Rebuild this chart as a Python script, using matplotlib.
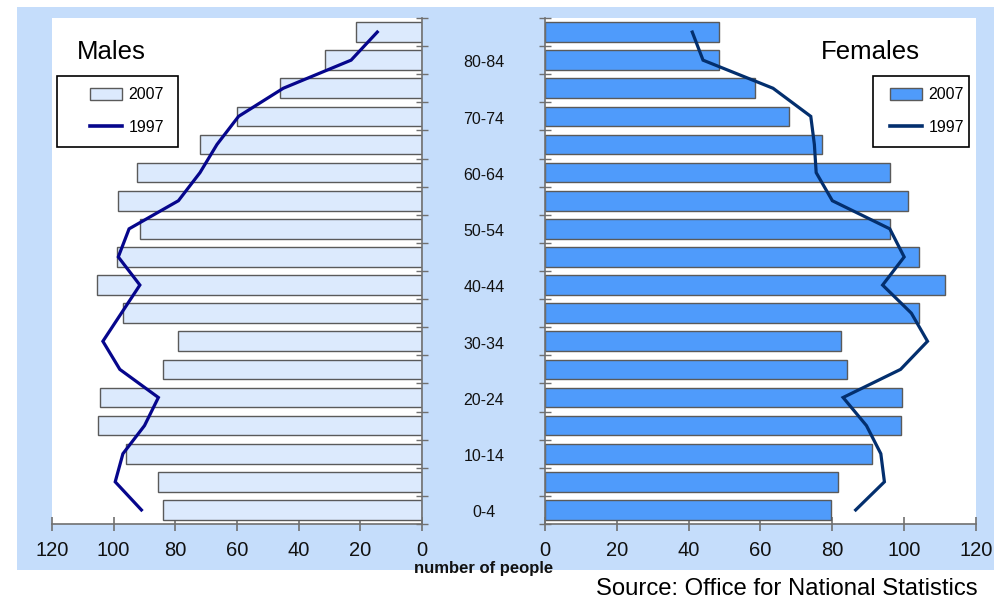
import matplotlib
matplotlib.use("Agg")
import matplotlib.pyplot as plt
from matplotlib.patches import Rectangle, Patch
from matplotlib.lines import Line2D
import matplotlib.transforms as mtransforms

plt.rcParams['font.family'] = ['Liberation Sans', 'DejaVu Sans']

# Age groups, youngest first
ages = ['0-4', '5-9', '10-14', '15-19', '20-24', '25-29', '30-34', '35-39',
        '40-44', '45-49', '50-54', '55-59', '60-64', '65-69', '70-74',
        '75-79', '80-84', '85-89']

male_2007 = [84, 85.5, 96, 105, 104.5, 84, 79, 97, 105.5, 99, 91.5, 98.5,
             92.5, 72, 60, 46, 31.5, 21.5]
male_1997 = [91, 99.5, 97, 90, 85.5, 98, 103.5, 97.5, 91.5, 98.5, 95, 79,
             72, 66.5, 59.5, 45, 23, 14.5]
female_2007 = [79.5, 81.5, 91, 99, 99.5, 84, 82.5, 104, 111.5, 104, 96, 101,
               96, 77, 68, 58.5, 48.5, 48.5]
female_1997 = [86.5, 94.5, 93.5, 89.5, 83, 99, 106.5, 102, 94, 100, 96, 80,
               75.5, 75, 74, 63.5, 44, 41]

x_ticks = [0, 20, 40, 60, 80, 100, 120]

W, H = 995, 597
BG = '#C5DDFB'
MALE_FACE = '#DCEAFD'
FEMALE_FACE = '#4F9BFB'
MALE_LINE = '#06068C'
FEMALE_LINE = '#032F6E'
EDGE = '#5A5A5A'
AXIS = '#707070'

fig = plt.figure(figsize=(W / 100, H / 100), dpi=100)


def fx(px):
    return px / W


def fy(py):
    return 1 - py / H


# panel background
fig.patches.append(Rectangle((fx(17), fy(570)), fx(W - 17), (570 - 7) / H,
                             transform=fig.transFigure, facecolor=BG,
                             edgecolor='none', zorder=-5))

top, bottom = 18, 524
axL = fig.add_axes([fx(52), fy(bottom), fx(422 - 52), (bottom - top) / H])
axR = fig.add_axes([fx(545), fy(bottom), fx(976 - 545), (bottom - top) / H])

y = list(range(len(ages)))

axL.barh(y, male_2007, height=0.7, color=MALE_FACE, edgecolor=EDGE,
         linewidth=1.0, zorder=2)
axL.plot(male_1997, y, color=MALE_LINE, lw=2.3, zorder=3,
         solid_joinstyle='miter')
axL.set_xlim(120, 0)

axR.barh(y, female_2007, height=0.7, color=FEMALE_FACE, edgecolor=EDGE,
         linewidth=1.0, zorder=2)
axR.plot(female_1997, y, color=FEMALE_LINE, lw=2.3, zorder=3,
         solid_joinstyle='miter')
axR.set_xlim(0, 120)

bounds = [i - 0.5 for i in range(len(ages) + 1)]
for ax, side in ((axL, 'right'), (axR, 'left')):
    ax.set_ylim(-0.5, len(ages) - 0.5)
    ax.set_facecolor('white')
    for s in ax.spines.values():
        s.set_visible(False)
    ax.spines[side].set_visible(True)
    ax.spines['bottom'].set_visible(True)
    ax.spines[side].set_color(AXIS)
    ax.spines['bottom'].set_color(AXIS)
    ax.spines[side].set_linewidth(1.2)
    ax.spines['bottom'].set_linewidth(1.2)
    ax.set_yticks(bounds)
    ax.set_yticklabels([])
    ax.yaxis.set_ticks_position(side)
    ax.tick_params(axis='y', direction='inout', length=9, color=AXIS, width=1)
    ax.set_xticks(x_ticks)
    ax.tick_params(axis='x', direction='inout', length=10, color=AXIS,
                   width=1.2, labelsize=14.5, pad=7, labelcolor='#111111')

# age-group labels in the gap between the panels
trans = mtransforms.blended_transform_factory(fig.transFigure, axL.transData)
for i, lab in enumerate(ages):
    if i % 2 == 0:
        fig.text(fx(484), i - 0.1, lab, transform=trans, ha='center',
                 va='center', fontsize=11.5, color='#111111')

fig.text(fx(484), fy(568), 'number of people', ha='center', va='center',
         fontsize=12, fontweight='bold', color='#111111')

fig.text(fx(77), fy(52), 'Males', ha='left', va='center', fontsize=18.5,
         color='black')
fig.text(fx(821), fy(52), 'Females', ha='left', va='center', fontsize=18.5,
         color='black')

fig.text(fx(978), fy(595), 'Source: Office for National Statistics',
         ha='right', va='baseline', fontsize=17.2, color='black')

# legend frames
fig.patches.append(Rectangle((fx(57), fy(147)), fx(178 - 57), (147 - 76) / H,
                             transform=fig.transFigure, facecolor='white',
                             edgecolor='black', linewidth=1.2, zorder=5))
fig.patches.append(Rectangle((fx(873), fy(147)), fx(969 - 873), (147 - 76) / H,
                             transform=fig.transFigure, facecolor='white',
                             edgecolor='black', linewidth=1.2, zorder=5))

hL = [Patch(facecolor=MALE_FACE, edgecolor=EDGE, linewidth=1.0),
      Line2D([], [], color=MALE_LINE, lw=2.6)]
hR = [Patch(facecolor=FEMALE_FACE, edgecolor=EDGE, linewidth=1.0),
      Line2D([], [], color=FEMALE_LINE, lw=2.6)]

legL = fig.legend(hL, ['2007', '1997'], loc='center left',
                  bbox_to_anchor=(fx(82), fy(111)), frameon=False,
                  fontsize=11.5, handlelength=2.0, handleheight=0.8,
                  handletextpad=0.4, labelspacing=1.1, borderpad=0)
legR = fig.legend(hR, ['2007', '1997'], loc='center left',
                  bbox_to_anchor=(fx(882), fy(111)), frameon=False,
                  fontsize=11.5, handlelength=2.0, handleheight=0.8,
                  handletextpad=0.4, labelspacing=1.1, borderpad=0)
legL.set_zorder(6)
legR.set_zorder(6)

fig.savefig('out.png', dpi=100, facecolor='white')
